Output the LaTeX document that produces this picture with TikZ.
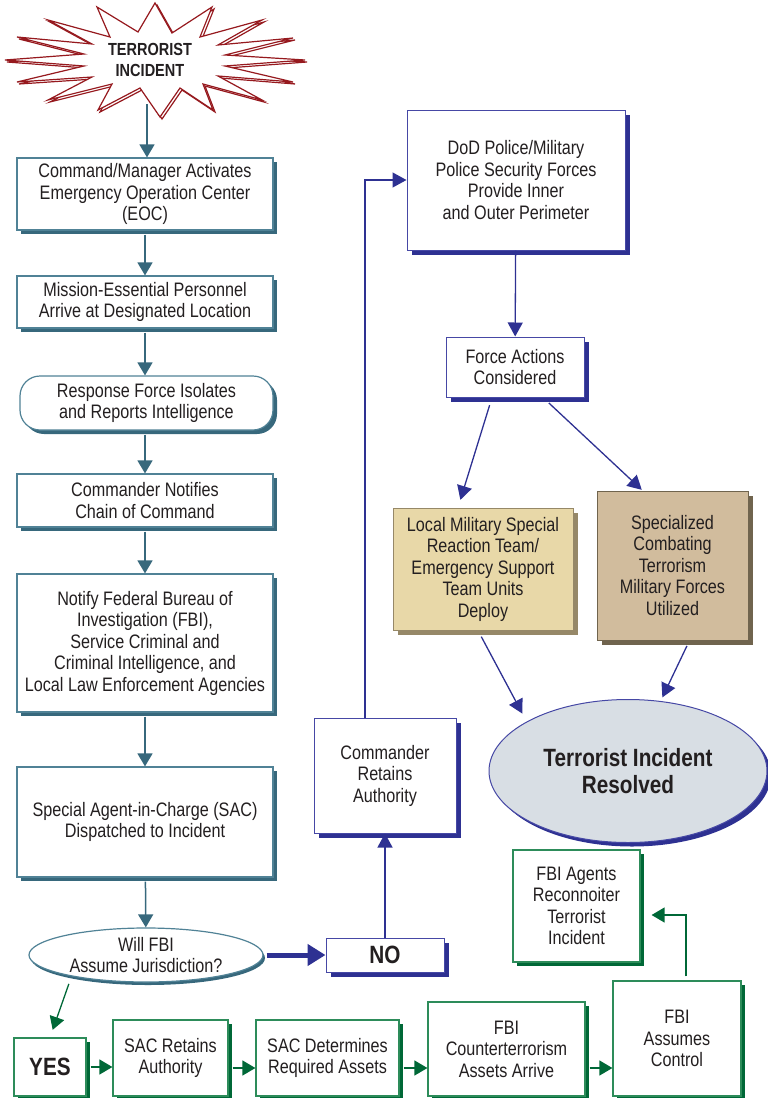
\documentclass[tikz,border=0pt]{standalone}
\usepackage{fontspec}
\setmainfont{Liberation Sans}[FakeStretch=0.83]
\usetikzlibrary{arrows.meta,shapes.geometric,shadows}

\definecolor{txtgray}{RGB}{35,31,32}
\definecolor{tealline}{RGB}{80,130,150}
\definecolor{tealdark}{RGB}{55,104,124}
\definecolor{navyline}{RGB}{70,72,165}
\definecolor{navydark}{RGB}{46,49,146}
\definecolor{grnline}{RGB}{45,140,90}
\definecolor{grndark}{RGB}{0,104,55}
\definecolor{starred}{RGB}{150,25,30}
\definecolor{tanlight}{RGB}{232,216,168}
\definecolor{tanlightsh}{RGB}{150,136,104}
\definecolor{tandark}{RGB}{209,188,157}
\definecolor{tandarksh}{RGB}{112,100,78}
\definecolor{resfill}{RGB}{216,222,228}

\begin{document}
\begin{tikzpicture}[
x=1pt, y=-1pt,
every node/.style={font=\fontsize{19.5}{21.5}\selectfont, text=txtgray, align=center, inner sep=0pt},
tbox/.style={rectangle, draw=tealline, line width=1.2pt, fill=white, drop shadow={shadow xshift=4pt, shadow yshift=-4pt, fill=tealdark, opacity=1}},
bbox/.style={rectangle, draw=navyline, line width=1pt, fill=white, drop shadow={shadow xshift=5pt, shadow yshift=-5pt, fill=navydark, opacity=1}},
gbox/.style={rectangle, draw=grnline, line width=1.2pt, fill=white, drop shadow={shadow xshift=4pt, shadow yshift=-4pt, fill=grndark, opacity=1}},
tanbox/.style={rectangle, draw=tanlightsh, line width=1pt, drop shadow={shadow xshift=5pt, shadow yshift=-5pt, fill=#1, opacity=1}},
bigtxt/.style={font=\bfseries\fontsize{25}{27}\selectfont},
tarrow/.style={draw=tealdark, line width=1.5pt, shorten <=4pt, -{Triangle[length=13pt,width=15pt]}},
barrow/.style={draw=navydark, line width=1.3pt, -{Triangle[length=14pt,width=15pt]}},
garrow/.style={draw=grndark, line width=1.3pt, -{Triangle[length=13pt,width=15pt]}}
]
\useasboundingbox (0,0) rectangle (768,1098);

%Starburst
\draw[starred, line width=1.2pt, xshift=2pt, yshift=-2pt]
  (155,3) -- (172,33) -- (212,7) -- (200,37) -- (262,20) -- (218,45) -- (293,38) -- (225,55)
  -- (305,60) -- (225,66) -- (293,82) -- (218,76) -- (262,100) -- (203,84) -- (213,110) -- (180,88)
  -- (160,117) -- (140,88) -- (98,110) -- (112,84) -- (48,100) -- (92,77) -- (17,82) -- (84,66)
  -- (5,60) -- (84,54) -- (17,37) -- (92,44) -- (48,20) -- (110,37) -- (97,7) -- (138,32) -- cycle;
\draw[starred, line width=1.2pt, fill=white]
  (155,3) -- (172,33) -- (212,7) -- (200,37) -- (262,20) -- (218,45) -- (293,38) -- (225,55)
  -- (305,60) -- (225,66) -- (293,82) -- (218,76) -- (262,100) -- (203,84) -- (213,110) -- (180,88)
  -- (160,117) -- (140,88) -- (98,110) -- (112,84) -- (48,100) -- (92,77) -- (17,82) -- (84,66)
  -- (5,60) -- (84,54) -- (17,37) -- (92,44) -- (48,20) -- (110,37) -- (97,7) -- (138,32) -- cycle;

%Nodes
\node[font=\bfseries\fontsize{17.5}{21}\selectfont] (inc) at (150,60) {TERRORIST\\INCIDENT};
\coordinate (incb) at (147,100);
\node[tbox, minimum width=256pt, minimum height=72pt] (eoc) at (145,194) {Command/Manager Activates\\Emergency Operation Center\\(EOC)};
\node[tbox, minimum width=256pt, minimum height=52pt] (mep) at (145,302) {Mission-Essential Personnel\\Arrive at Designated Location};
\node[tbox, rounded corners=20pt, minimum width=253pt, minimum height=54pt] (rfi) at (146.5,403) {Response Force Isolates\\and Reports Intelligence};
\node[tbox, minimum width=256pt, minimum height=53pt] (cnc) at (145,500.5) {Commander Notifies\\Chain of Command};
\node[tbox, minimum width=256pt, minimum height=138pt] (nfb) at (145,643) {Notify Federal Bureau of\\Investigation (FBI),\\Service Criminal and\\Criminal Intelligence, and\\Local Law Enforcement Agencies};
\node[tbox, minimum width=256pt, minimum height=110pt] (sac) at (145,822) {Special Agent-in-Charge (SAC)\\Dispatched to Incident};
\node[ellipse, draw=tealline, line width=1.2pt, fill=white, inner xsep=0pt, inner ysep=-3pt, minimum width=234pt, minimum height=54pt,
  drop shadow={shadow xshift=2pt, shadow yshift=-3pt, fill=tealdark, opacity=1}] (will) at (146,955) {Will FBI\\Assume Jurisdiction?};

\node[bbox, bigtxt, minimum width=118pt, minimum height=34pt] (no) at (385,955) {NO};
\node[bbox, minimum width=142pt, minimum height=115pt] (cra) at (385,775.5) {Commander\\Retains\\Authority};
\node[bbox, minimum width=218pt, minimum height=140pt] (dod) at (516,180) {DoD Police/Military\\Police Security Forces\\Provide Inner\\and Outer Perimeter};
\node[bbox, minimum width=138pt, minimum height=60pt] (fac) at (515,367) {Force Actions\\Considered};
\node[tanbox=tanlightsh, fill=tanlight, minimum width=180pt, minimum height=122pt] (lms) at (483,569) {Local Military Special\\Reaction Team/\\Emergency Support\\Team Units\\Deploy};
\node[tanbox=tandarksh, draw=tandarksh, fill=tandark, minimum width=151pt, minimum height=149pt] (spec) at (672.5,565.5) {Specialized\\Combating\\Terrorism\\Military Forces\\Utilized};
\node[ellipse, draw=navyline, line width=1pt, fill=resfill, bigtxt, inner sep=0pt, minimum width=278pt, minimum height=143pt,
  drop shadow={shadow xshift=4pt, shadow yshift=-4pt, fill=navydark, opacity=1}] (res) at (628,771) {Terrorist Incident\\Resolved};

\node[gbox, minimum width=127pt, minimum height=112pt] (fba) at (576.5,906) {FBI Agents\\Reconnoiter\\Terrorist\\Incident};
\node[gbox, bigtxt, minimum width=72pt, minimum height=58pt] (yes) at (50,1067) {YES};
\node[gbox, minimum width=115pt, minimum height=76pt] (sacr) at (170.5,1058) {SAC Retains\\Authority};
\node[gbox, minimum width=143pt, minimum height=76pt] (sacd) at (327.5,1058) {SAC Determines\\Required Assets};
\node[gbox, minimum width=157pt, minimum height=94pt] (fbic) at (506.5,1049) {FBI\\Counterterrorism\\Assets Arrive};
\node[gbox, minimum width=128pt, minimum height=115pt] (fbac) at (677,1038.5) {FBI\\Assumes\\Control};

%Lines
\draw[tarrow] (incb) -- (incb |- eoc.north);
\draw[tarrow] (eoc) -- (mep);
\draw[tarrow] (mep.south) -- (mep.south |- rfi.north);
\draw[tarrow] (rfi.south -| mep.south) -- (cnc);
\draw[tarrow] (cnc) -- (nfb);
\draw[tarrow] (nfb) -- (sac);
\draw[tarrow] (sac) -- (will);
\draw[draw=navydark, line width=5pt, shorten <=3pt, -{Triangle[length=18pt,width=21pt]}] (will) -- (no);
\draw[barrow] (no) -- (cra);
\draw[barrow] ([xshift=-20pt]cra.north) |- (dod.west);
\draw[barrow] (dod) -- (fac);
\draw[barrow, shorten <=8pt, shorten >=8pt] ([xshift=-23pt]fac.south) -- ([xshift=-25pt]lms.north);
\draw[barrow, shorten <=8pt, shorten >=1pt] ([xshift=28pt]fac.south) -- ([xshift=-30pt]spec.north);
\draw[barrow, shorten <=7pt, shorten >=9pt] ([xshift=-5pt]lms.south) -- (res.154);
\draw[barrow, shorten <=6pt, shorten >=4pt] ([xshift=17pt]spec.south) -- (res.65);
\draw[garrow, shorten <=8pt, shorten >=8pt] (will.196) -- (yes.north);
\draw[garrow, shorten <=4pt] (yes) -- (yes -| sacr.west);
\draw[garrow, shorten <=4pt] ([yshift=-10pt]sacr.east) -- ([yshift=-10pt]sacd.west);
\draw[garrow, shorten <=4pt] ([yshift=-10pt]sacd.east) -- ([yshift=-10pt]sacd.east -| fbic.west);
\draw[garrow, shorten <=4pt] ([yshift=-19pt]fbic.east) -- ([yshift=-19pt]fbic.east -| fbac.west);
\draw[garrow, shorten <=4pt, shorten >=11pt] ([xshift=9pt]fbac.north) |- ([yshift=-9pt]fba.east);
\end{tikzpicture}
\end{document}
